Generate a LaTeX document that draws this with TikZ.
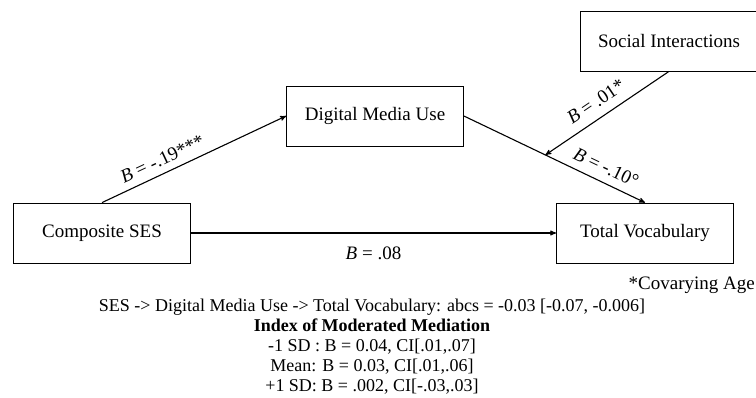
\documentclass[tikz,border=0pt]{standalone}
\usepackage{fontspec}
\setmainfont{Liberation Serif}
\usetikzlibrary{arrows,positioning,calc}
\tikzset{
    %Define standard arrow tip
    >=stealth',
    %Define style for boxes
    varbox/.style={
           rectangle,
           draw=black, line width=0.8pt,
           minimum width=177pt,
           minimum height=60pt,
           font=\fontsize{19}{21}\selectfont,
           text centered},
    % Define arrow style
    pil/.style={
           ->,
           line width=1.1pt},
    coef/.style={
           font=\fontsize{19}{21}\selectfont,
           inner sep=2pt}
}

\begin{document}
\begin{tikzpicture}[x=1pt,y=-1pt]
\useasboundingbox (0,0) rectangle (756,398);
\node[varbox] (ses) at (102,233) {Composite SES};
\node[varbox] (dmu) at (375,116) {Digital Media Use};
\node[varbox] (tv) at (645,233) {Total Vocabulary};
\node[varbox] (si) at (669,41) {Social Interactions};
\coordinate (mod) at ($(dmu.east)!0.45!(tv.north)$);
\path[pil]
    (ses.north) edge node[coef, sloped, above=5pt, pos=0.36]{\textit{B} = -.19***} (dmu.west)
    (dmu.east) edge node[coef, sloped, above=6pt, pos=0.75]{\textit{B} = -.10°} (tv.north)
    (si.south) edge node[coef, sloped, above=7pt, pos=0.52]{\textit{B} = .01*} (mod)
    (ses.east) edge node[coef, below=11pt, pos=0.5]{\textit{B} = .08} (tv.west);
\node[coef, anchor=east] (age) at (757,285) {*Covarying Age};
\node[align=center, font=\fontsize{18}{20}\selectfont] (summary) at (372,347)
    {SES -> Digital Media Use -> Total Vocabulary: abcs = -0.03 [-0.07, -0.006]\\
     \textbf{Index of Moderated Mediation}\\
     -1 SD : B = 0.04, CI[.01,.07]\\
     Mean: B = 0.03, CI[.01,.06]\\
     +1 SD: B = .002, CI[-.03,.03]};
\end{tikzpicture}
\end{document}
